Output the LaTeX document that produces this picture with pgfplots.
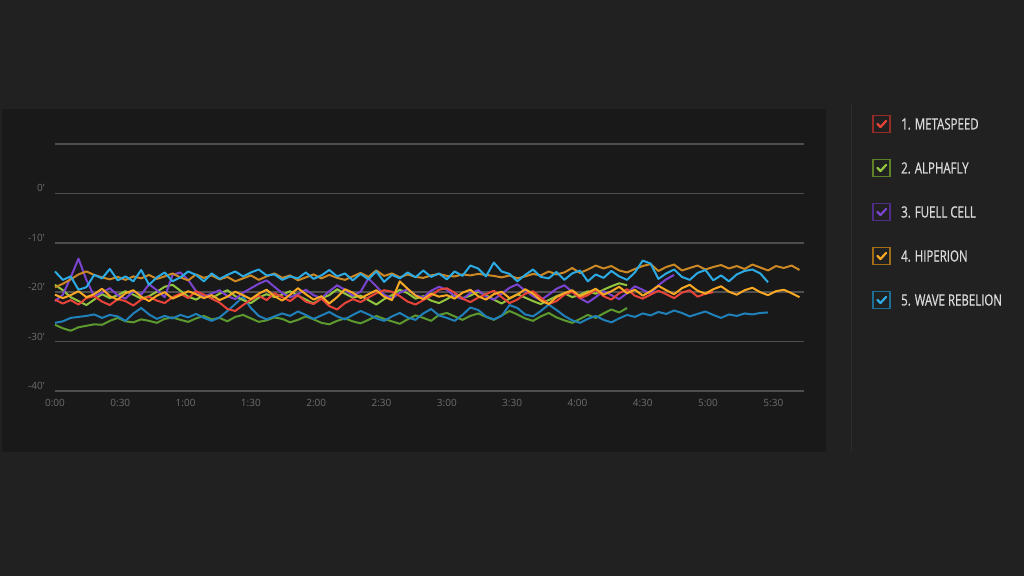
\documentclass[border=0pt]{standalone}
\usepackage{pgfplots}
\usepackage{pgfplotstable}
\pgfplotsset{compat=1.18}
\usepackage{fontspec}
\setmainfont{Open Sans}
\newfontfamily\legfont{Open Sans}[FakeStretch=0.74,FakeBold=0.6]

\definecolor{bgc}{HTML}{212121}
\definecolor{panelc}{HTML}{191919}
\definecolor{sepc}{HTML}{2C2C2C}
\definecolor{gridc}{HTML}{4E4E4E}
\definecolor{tickc}{HTML}{6E6E6E}
\definecolor{legtxt}{HTML}{DADADA}
\definecolor{cred}{HTML}{E8443A}
\definecolor{cygreen}{HTML}{92C63E}
\definecolor{cdgreen}{HTML}{5C9A2F}
\definecolor{cpurple}{HTML}{7A44D0}
\definecolor{corange}{HTML}{F8A822}
\definecolor{cdorange}{HTML}{CC8824}
\definecolor{clblue}{HTML}{2BAAE4}
\definecolor{cdblue}{HTML}{1F80BA}

% one value every 0.06 min
\pgfplotstableread[row sep=\\]{y\\
-15.8\\-17.5\\-16.8\\-19.5\\-19.0\\-16.5\\-17.2\\-15.3\\-17.6\\-16.8\\
-17.8\\-15.5\\-18.5\\-17.0\\-16.0\\-17.8\\-17.0\\-15.8\\-16.5\\-17.8\\
-16.2\\-17.3\\-16.5\\-15.8\\-16.8\\-16.0\\-15.4\\-16.6\\-16.4\\-17.5\\
-16.8\\-17.2\\-16.0\\-17.3\\-16.6\\-15.5\\-16.8\\-16.2\\-17.6\\-16.3\\
-17.4\\-15.8\\-17.9\\-16.5\\-17.2\\-16.0\\-17.0\\-15.6\\-16.9\\-16.2\\
-17.4\\-15.8\\-16.7\\-14.6\\-15.2\\-16.8\\-14.0\\-15.8\\-16.3\\-17.8\\
-16.5\\-15.4\\-16.9\\-17.2\\-15.9\\-17.5\\-16.2\\-15.6\\-17.8\\-16.4\\
-17.1\\-15.7\\-16.8\\-17.5\\-16.0\\-13.6\\-14.2\\-17.3\\-16.2\\-15.4\\
-16.9\\-17.5\\-16.1\\-15.5\\-17.6\\-16.6\\-17.8\\-16.4\\-15.7\\-15.4\\
-16.2\\-18.0\\}\wr

\pgfplotstableread[row sep=\\]{y\\
-19.0\\-18.3\\-17.4\\-16.4\\-15.8\\-16.5\\-17.0\\-17.4\\-16.9\\-17.5\\
-16.8\\-17.2\\-16.5\\-17.3\\-16.8\\-16.2\\-17.0\\-17.6\\-16.4\\-17.1\\
-16.6\\-17.4\\-16.9\\-17.8\\-17.2\\-16.6\\-17.5\\-16.8\\-16.2\\-17.1\\
-16.6\\-17.6\\-17.0\\-16.4\\-17.2\\-16.5\\-17.1\\-17.5\\-16.8\\-16.1\\
-16.9\\-15.6\\-16.7\\-16.2\\-17.0\\-16.4\\-16.9\\-17.1\\-16.6\\-16.3\\
-16.7\\-16.8\\-16.4\\-16.6\\-16.3\\-16.5\\-16.7\\-17.0\\-16.6\\-17.2\\
-16.8\\-16.3\\-16.6\\-15.8\\-16.4\\-16.0\\-15.1\\-16.1\\-15.4\\-14.6\\
-15.2\\-14.7\\-15.6\\-16.0\\-15.3\\-14.7\\-14.3\\-15.7\\-14.9\\-14.4\\
-15.6\\-15.1\\-14.6\\-15.4\\-14.9\\-14.5\\-15.2\\-14.7\\-15.3\\-14.4\\
-15.0\\-15.6\\-14.7\\-15.1\\-14.6\\-15.5\\}\dor

\pgfplotstableread[row sep=\\]{y\\
-20.5\\-21.2\\-20.6\\-19.8\\-21.0\\-20.4\\-19.3\\-20.8\\-21.5\\-20.2\\
-19.6\\-20.9\\-21.8\\-20.7\\-20.0\\-21.3\\-20.6\\-19.8\\-20.4\\-21.2\\
-20.6\\-21.6\\-20.9\\-19.9\\-20.6\\-21.4\\-20.3\\-19.5\\-20.8\\-21.7\\
-20.5\\-19.2\\-20.4\\-21.5\\-20.8\\-22.3\\-21.0\\-19.4\\-20.1\\-21.2\\
-20.4\\-19.6\\-20.9\\-21.6\\-17.8\\-19.3\\-20.7\\-21.4\\-20.3\\-20.9\\
-20.6\\-21.3\\-20.1\\-19.5\\-20.8\\-21.5\\-20.4\\-19.9\\-21.2\\-20.5\\
-19.4\\-20.3\\-21.7\\-22.4\\-21.0\\-20.2\\-19.6\\-20.8\\-20.1\\-19.3\\
-20.5\\-19.8\\-18.9\\-20.2\\-19.5\\-20.7\\-19.8\\-18.7\\-19.6\\-20.4\\
-19.2\\-18.5\\-19.7\\-20.3\\-19.4\\-18.8\\-19.9\\-20.5\\-19.6\\-19.1\\
-20.0\\-20.6\\-19.8\\-19.5\\-20.2\\-21.0\\}\yor

\pgfplotstableread[row sep=\\]{y\\
-21.5\\-22.3\\-21.6\\-22.5\\-21.2\\-20.8\\-21.9\\-22.6\\-21.4\\-21.8\\
-22.7\\-21.5\\-20.9\\-21.7\\-22.2\\-21.0\\-20.3\\-21.2\\-19.8\\-20.5\\
-21.3\\-22.1\\-23.4\\-23.8\\-22.6\\-21.5\\-20.7\\-21.6\\-20.2\\-21.0\\
-21.8\\-20.6\\-21.9\\-22.4\\-21.3\\-22.8\\-23.5\\-22.2\\-21.4\\-22.0\\
-21.1\\-20.2\\-19.6\\-19.9\\-20.8\\-21.9\\-22.5\\-21.6\\-20.7\\-19.5\\
-19.2\\-20.1\\-21.3\\-22.0\\-21.1\\-20.4\\-19.7\\-21.0\\-22.2\\-21.5\\
-20.3\\-19.8\\-21.1\\-22.4\\-21.8\\-20.5\\-19.9\\-21.2\\-20.6\\-19.5\\
-20.8\\-21.5\\-20.2\\-19.4\\-20.7\\-21.3\\-20.5\\-19.7\\-20.4\\-21.2\\
-20.1\\-19.6\\-20.9\\-20.3\\-20.0\\}\red

\pgfplotstableread[row sep=\\]{y\\
-21.8\\-20.5\\-17.0\\-13.2\\-17.5\\-20.8\\-20.1\\-19.2\\-20.6\\-21.3\\
-19.8\\-20.5\\-18.4\\-19.6\\-21.0\\-16.5\\-16.0\\-17.5\\-19.8\\-20.9\\
-20.3\\-19.6\\-20.8\\-21.4\\-20.1\\-19.2\\-18.3\\-17.6\\-18.9\\-20.2\\
-21.0\\-20.4\\-19.5\\-20.6\\-21.2\\-19.8\\-18.6\\-19.5\\-20.7\\-19.9\\
-17.2\\-18.8\\-20.5\\-21.3\\-20.1\\-19.4\\-20.6\\-21.1\\-19.7\\-18.9\\
-19.5\\-20.8\\-21.4\\-20.2\\-19.6\\-20.9\\-21.5\\-20.3\\-19.1\\-18.4\\
-19.7\\-20.8\\-21.6\\-20.5\\-19.3\\-18.6\\-19.9\\-21.2\\-22.1\\-21.0\\
-19.8\\-20.6\\-21.4\\-20.2\\-18.8\\-19.5\\-20.3\\-18.6\\-17.4\\-16.5\\}\pur

\pgfplotstableread[row sep=\\]{y\\
-18.5\\-19.6\\-21.0\\-21.8\\-22.6\\-21.5\\-20.4\\-21.2\\-20.6\\-19.8\\
-20.5\\-21.3\\-20.8\\-19.9\\-18.9\\-18.5\\-19.7\\-20.9\\-21.5\\-20.6\\
-21.2\\-20.3\\-19.6\\-20.8\\-21.6\\-22.2\\-21.1\\-20.4\\-21.0\\-20.5\\
-19.8\\-20.7\\-21.5\\-22.3\\-21.2\\-20.6\\-19.4\\-20.3\\-21.1\\-20.7\\
-21.6\\-22.5\\-21.4\\-20.6\\-19.5\\-20.2\\-21.3\\-20.8\\-21.7\\-22.2\\
-21.4\\-20.5\\-21.2\\-20.7\\-19.9\\-20.6\\-21.5\\-22.3\\-21.3\\-20.4\\
-21.1\\-21.8\\-22.4\\-21.6\\-20.8\\-20.2\\-21.0\\-20.5\\-19.8\\-20.3\\
-19.5\\-18.8\\-18.2\\-18.6\\}\ygr

\pgfplotstableread[row sep=\\]{y\\
-26.6\\-27.3\\-27.8\\-27.1\\-26.8\\-26.5\\-26.6\\-25.8\\-25.2\\-25.9\\
-26.1\\-25.5\\-25.8\\-26.2\\-25.4\\-25.1\\-25.6\\-26.0\\-25.3\\-24.8\\
-25.5\\-25.2\\-25.9\\-25.0\\-24.6\\-25.3\\-26.0\\-25.7\\-25.1\\-25.4\\
-26.1\\-25.6\\-24.9\\-25.5\\-26.2\\-26.5\\-25.8\\-25.3\\-25.9\\-26.3\\
-25.6\\-24.8\\-25.4\\-25.9\\-26.4\\-25.5\\-24.7\\-25.2\\-25.8\\-24.6\\
-24.2\\-24.9\\-25.6\\-24.8\\-24.3\\-25.0\\-25.6\\-24.7\\-23.8\\-24.5\\
-25.3\\-25.8\\-24.9\\-24.2\\-25.1\\-25.7\\-26.2\\-25.4\\-24.6\\-25.2\\
-24.3\\-23.5\\-24.1\\-23.2\\}\dgr

\pgfplotstableread[row sep=\\]{y\\
-26.2\\-25.9\\-25.2\\-25.0\\-24.8\\-24.5\\-25.2\\-24.6\\-24.9\\-25.8\\
-24.3\\-23.2\\-24.5\\-25.4\\-24.8\\-25.3\\-24.6\\-25.1\\-24.4\\-25.2\\
-25.8\\-25.1\\-23.8\\-22.4\\-20.9\\-23.2\\-24.8\\-25.5\\-24.9\\-24.3\\
-24.8\\-23.9\\-24.6\\-25.4\\-24.7\\-24.0\\-24.9\\-25.5\\-24.6\\-23.8\\
-24.5\\-25.3\\-25.8\\-24.9\\-24.2\\-25.1\\-25.6\\-24.3\\-23.4\\-24.7\\
-25.2\\-25.8\\-24.6\\-23.1\\-23.6\\-24.9\\-25.5\\-24.8\\-22.6\\-23.2\\
-24.5\\-24.9\\-23.8\\-22.5\\-23.6\\-24.8\\-25.7\\-26.2\\-25.4\\-24.8\\
-25.6\\-26.1\\-25.3\\-24.6\\-25.0\\-24.3\\-24.7\\-24.0\\-24.4\\-23.7\\
-24.2\\-24.9\\-24.4\\-23.9\\-24.6\\-25.2\\-24.5\\-24.8\\-24.3\\-24.5\\
-24.2\\-24.1\\}\dbl

\newcommand\legitem[3]{%
  \draw[#1!65!black, line width=1.2pt] (873pt,#2-8.5pt) rectangle (890pt,#2+8.5pt);
  \draw[#1, line width=2.2pt, line cap=round, line join=round]
    (877.5pt,#2) -- (880.5pt,#2-3pt) -- (886pt,#2+3pt);
  \node[anchor=west, inner sep=0pt, text=legtxt, font=\legfont\fontsize{15.5}{18}\selectfont]
    at (901pt,#2) {#3};
}

\begin{document}
\begin{tikzpicture}
\fill[bgc] (0,0) rectangle (1024pt,576pt);
\fill[panelc] (2pt,124pt) rectangle (826pt,467pt);
\draw[sepc, line width=1pt] (851.5pt,124pt) -- (851.5pt,473pt);

\begin{axis}[
    at={(55pt,185pt)}, anchor=south west,
    scale only axis, width=749pt, height=247pt,
    xmin=0, xmax=5.735, ymin=-40, ymax=10,
    axis line style={draw=none},
    major tick length=0pt,
    ytick={-40,-30,-20,-10,0,10},
    yticklabels={-40',-30',-20',-10',0',{}},
    xtick={0,0.5,1,1.5,2,2.5,3,3.5,4,4.5,5,5.5},
    xticklabels={0:00,0:30,1:00,1:30,2:00,2:30,3:00,3:30,4:00,4:30,5:00,5:30},
    ymajorgrids,
    major grid style={gridc, line width=1.5pt},
    tick label style={text=tickc, font=\fontsize{10}{12}\selectfont},
    yticklabel style={xshift=-7pt, yshift=5pt},
    xticklabel style={yshift=-5pt},
    every axis plot/.append style={line width=2pt, line join=round, no markers},
    clip=false,
]
\addplot[cdgreen] table[x expr=\coordindex*0.06, y=y] {\dgr};
\addplot[cdblue] table[x expr=\coordindex*0.06, y=y] {\dbl};
\addplot[cygreen] table[x expr=\coordindex*0.06, y=y] {\ygr};
\addplot[cpurple] table[x expr=\coordindex*0.06, y=y] {\pur};
\addplot[cred] table[x expr=\coordindex*0.06, y=y] {\red};
\addplot[cdorange] table[x expr=\coordindex*0.06, y=y] {\dor};
\addplot[corange] table[x expr=\coordindex*0.06, y=y] {\yor};
\addplot[clblue] table[x expr=\coordindex*0.06, y=y] {\wr};
\end{axis}

\legitem{cred}{452pt}{1. METASPEED}
\legitem{cygreen}{408pt}{2. ALPHAFLY}
\legitem{cpurple}{364pt}{3. FUELL CELL}
\legitem{corange}{320pt}{4. HIPERION}
\legitem{clblue}{276pt}{5. WAVE REBELION}
\end{tikzpicture}
\end{document}
